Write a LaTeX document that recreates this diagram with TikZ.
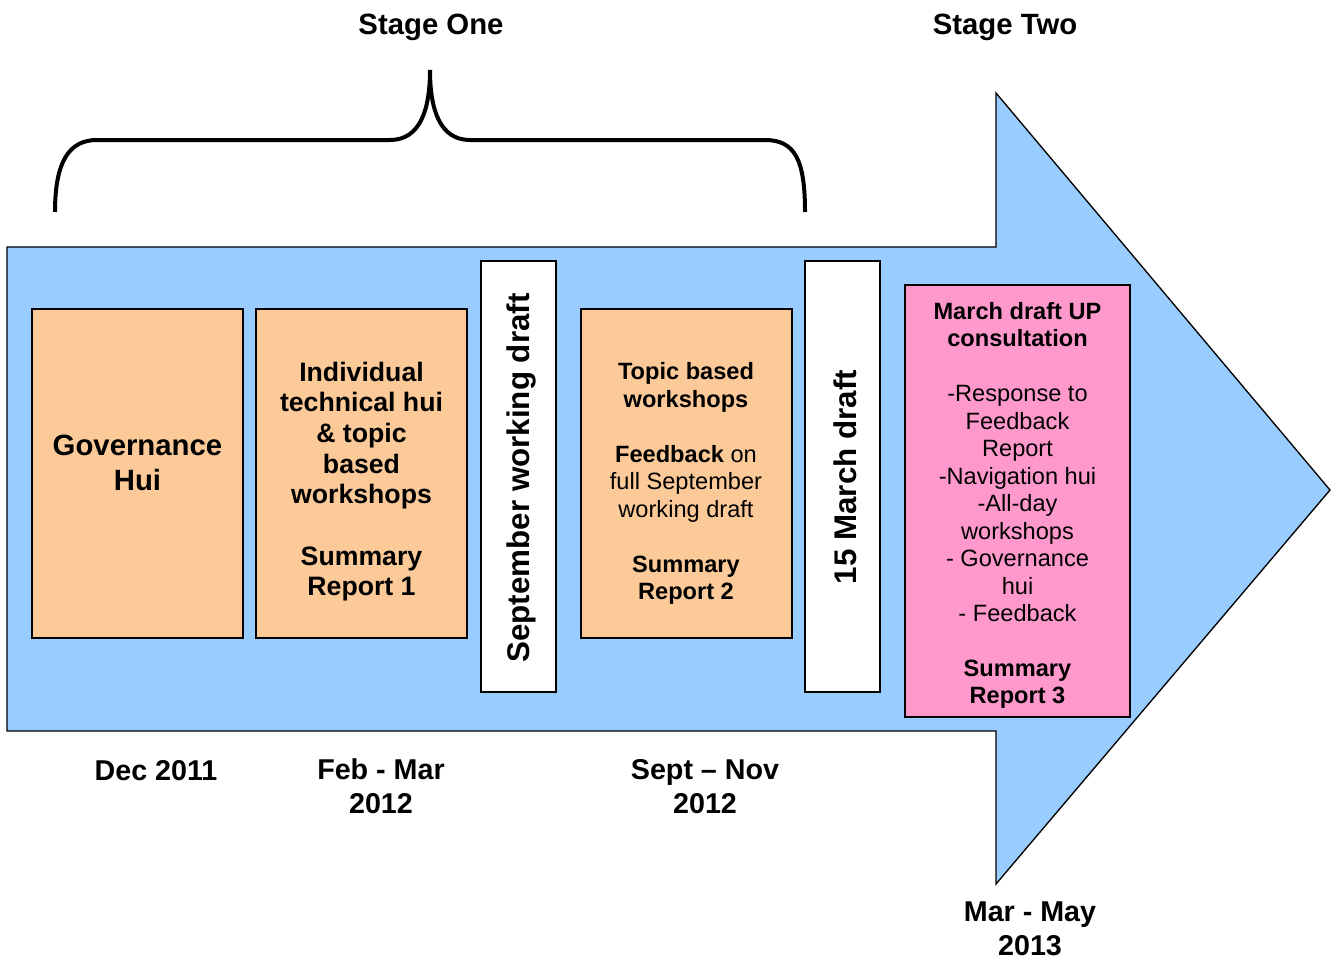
\documentclass[tikz,border=0pt]{standalone}
\usepackage{fontspec}
\setmainfont{Liberation Sans}
\usetikzlibrary{positioning}
\definecolor{arrowblue}{RGB}{153,204,255}
\definecolor{boxorange}{RGB}{252,202,153}
\definecolor{boxpink}{RGB}{255,153,204}

\begin{document}
\begin{tikzpicture}[x=0.75pt,y=-0.75pt,
    phase/.style={draw=black, line width=1.5pt, fill=boxorange, minimum width=158.25pt, minimum height=246.75pt, inner sep=0pt},
    draftbox/.style={draw=black, line width=1.5pt, fill=white, minimum width=56.25pt, minimum height=323.25pt, inner sep=0pt},
    consult/.style={draw=black, line width=1.5pt, fill=boxpink, minimum width=168.75pt, minimum height=324pt, inner sep=0pt},
    bigtxt/.style={align=center, inner sep=0pt, font=\fontsize{22}{26}\selectfont\bfseries},
    midtxt/.style={align=center, inner sep=0pt, font=\fontsize{20}{23}\selectfont\bfseries},
    smalltxt/.style={align=center, inner sep=0pt, font=\fontsize{17.7}{20.6}\selectfont},
    draftlabel/.style={rotate=90, inner sep=0pt, font=\fontsize{23.5}{28}\selectfont\bfseries},
    datelabel/.style={align=center, inner sep=0pt, font=\fontsize{21.5}{25.5}\selectfont\bfseries},
    brace/.style={line width=3pt, line cap=butt}]
\useasboundingbox (0,0) rectangle (1331,960);

% timeline arrow
\draw[fill=arrowblue, line width=1pt, line join=miter]
  (7,247) -- (996,247) -- (996,93) -- (1330,490) -- (996,884) -- (996,731) -- (7,731) -- cycle;

% stage one brace
\draw[brace] (55,212) .. controls (55,160) and (70,140) .. (97,140) -- (390,140)
  .. controls (420,140) and (430,110) .. (430,70)
  .. controls (430,110) and (440,140) .. (470,140) -- (765,140)
  .. controls (795,140) and (805,160) .. (805,212);

\node[bigtxt] (stageone) at (431,27.5) {Stage One};
\node[bigtxt] (stagetwo) at (1005,27.5) {Stage Two};

% boxes on the arrow
\node[phase] (gov) at (137.5,473.5) {};
\node[bigtxt] (govtext) at (137.5,463) {Governance\\Hui};

\node[phase] (indiv) at (361.5,473.5) {};
\node[midtxt] (indivtext) at (361.5,481.5) {Individual\\technical hui\\\& topic\\based\\workshops\\ \\Summary\\Report 1};

\node[draftbox] (sept) at (518.5,476.5) {};
\node[draftlabel] (septtext) at (521.5,478) {September working draft};

\node[phase] (topic) at (686,473.5) {};
\node[smalltxt] (topictext) at (686,483.5) {\textbf{Topic based}\\\textbf{workshops}\\ \\\textbf{Feedback} on\\full September\\working draft\\ \\\textbf{Summary}\\\textbf{Report 2}};

\node[draftbox] (march) at (842.5,476.5) {};
\node[draftlabel] (marchtext) at (845.5,477) {15 March draft};

\node[consult] (cons) at (1017.5,501) {};
\node[smalltxt] (constext) at (1017.5,505.5) {\textbf{March draft UP}\\\textbf{consultation}\\ \\-Response to\\Feedback\\Report\\-Navigation hui\\-All-day\\workshops\\- Governance\\hui\\- Feedback\\ \\\textbf{Summary}\\\textbf{Report 3}};

% dates
\node[datelabel] (dec) at (156,770.5) {Dec 2011};
\node[datelabel] (febmar) at (381,786.5) {Feb - Mar\\2012};
\node[datelabel] (septnov) at (705,786.5) {Sept – Nov\\2012};
\node[datelabel] (marmay) at (1030,928.5) {Mar - May\\2013};
\end{tikzpicture}
\end{document}
